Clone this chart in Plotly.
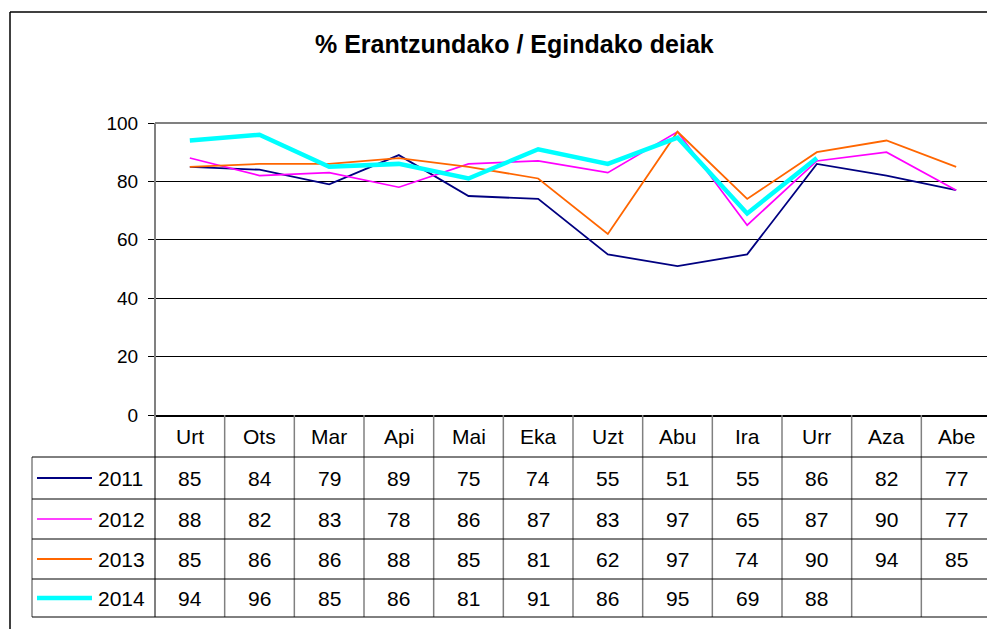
import plotly.graph_objects as go

# ---------------- data ----------------
months = ["Urt", "Ots", "Mar", "Api", "Mai", "Eka", "Uzt", "Abu", "Ira", "Urr", "Aza", "Abe"]
years = ["2011", "2012", "2013", "2014"]
v2011 = [85, 84, 79, 89, 75, 74, 55, 51, 55, 86, 82, 77]
v2012 = [88, 82, 83, 78, 86, 87, 83, 97, 65, 87, 90, 77]
v2013 = [85, 86, 86, 88, 85, 81, 62, 97, 74, 90, 94, 85]
v2014 = [94, 96, 85, 86, 81, 91, 86, 95, 69, 88, None, None]
y_ticks = [0, 20, 40, 60, 80, 100]
title_text = "% Erantzundako / Egindako deiak"

series = [v2011, v2012, v2013, v2014]

# ---------------- styles ----------------
colors = ["#000080", "#FF00FF", "#FF6600", "#00FFFF"]
widths = [1.8, 1.7, 1.8, 4.5]
FONT = "Liberation Sans, Arial, sans-serif"
GREY = "#808080"

OFF = 8  # default page body margin
W, H = 995, 629
L, R, T, B = 155, 991, 123, 415


def xp(px):
    return (px - L) / (R - L)


def yp(py):
    return (B - py) / (B - T)


row_edges = [415, 457, 499, 539, 579, 617]
row_centers = [(row_edges[i] + row_edges[i + 1]) / 2 for i in range(len(row_edges) - 1)]

fig = go.Figure()
for name, vals, c, w in zip(years, series, colors, widths):
    fig.add_trace(go.Scatter(x=months, y=vals, mode="lines", name=name,
                             line=dict(color=c, width=w), showlegend=False))

shapes = []
# outer chart border (left & top)
shapes.append(dict(type="line", xref="paper", yref="paper", x0=xp(10), x1=xp(10), y0=yp(12), y1=yp(700),
                   line=dict(color="black", width=1.5)))
shapes.append(dict(type="line", xref="paper", yref="paper", x0=xp(10), x1=xp(1010), y0=yp(12), y1=yp(12),
                   line=dict(color="black", width=1.5)))
# plot area border top/right
shapes.append(dict(type="line", xref="paper", yref="paper", x0=0, x1=1, y0=1, y1=1,
                   line=dict(color=GREY, width=2)))
shapes.append(dict(type="line", xref="paper", yref="paper", x0=1, x1=1, y0=0, y1=1,
                   line=dict(color=GREY, width=2)))
# left axis line extending through table
shapes.append(dict(type="line", xref="paper", yref="paper", x0=0, x1=0, y0=yp(617), y1=1,
                   line=dict(color=GREY, width=2)))
# table vertical separators
n = len(months)
for k in range(1, n + 1):
    shapes.append(dict(type="line", xref="paper", yref="paper", x0=k / n, x1=k / n,
                       y0=yp(row_edges[0]), y1=yp(row_edges[-1]),
                       line=dict(color=GREY, width=1.5)))
# legend column left edge
shapes.append(dict(type="line", xref="paper", yref="paper", x0=xp(32), x1=xp(32),
                   y0=yp(row_edges[1]), y1=yp(row_edges[-1]), line=dict(color=GREY, width=1.5)))
# table horizontal lines
for e in row_edges[1:]:
    shapes.append(dict(type="line", xref="paper", yref="paper", x0=xp(32), x1=1,
                       y0=yp(e), y1=yp(e), line=dict(color="black", width=1)))
# legend samples
for i, (c, w) in enumerate(zip(colors, widths)):
    yc = row_centers[i + 1]
    shapes.append(dict(type="line", xref="paper", yref="paper", x0=xp(37), x1=xp(92),
                       y0=yp(yc), y1=yp(yc), line=dict(color=c, width=w)))

annotations = []
annotations.append(dict(text="<b>" + title_text + "</b>", xref="paper", yref="paper",
                        x=xp(514), y=yp(44), showarrow=False, xanchor="center", yanchor="middle",
                        font=dict(family=FONT, size=25, color="black")))
TF = dict(family=FONT, size=21, color="black")
for m in months:
    annotations.append(dict(text=m, xref="x", yref="paper", x=m, y=yp(row_centers[0]),
                            showarrow=False, xanchor="center", yanchor="middle", font=TF))
for i, (yr, vals) in enumerate(zip(years, series)):
    yc = row_centers[i + 1]
    annotations.append(dict(text=yr, xref="paper", yref="paper", x=xp(96), y=yp(yc),
                            showarrow=False, xanchor="left", yanchor="middle", font=TF))
    for m, v in zip(months, vals):
        if v is None:
            continue
        annotations.append(dict(text=str(v), xref="x", yref="paper", x=m, y=yp(yc),
                                showarrow=False, xanchor="center", yanchor="middle", font=TF))

fig.update_layout(
    width=W - OFF, height=H - OFF,
    margin=dict(l=L - OFF, r=W - R, t=T - OFF, b=H - B, pad=0),
    paper_bgcolor="white", plot_bgcolor="white",
    shapes=shapes, annotations=annotations,
    xaxis=dict(type="category", range=[-0.5, n - 0.5], showticklabels=False, showgrid=False,
               zeroline=False, showline=True, linecolor="black", linewidth=1.5, ticks=""),
    yaxis=dict(range=[0, 100], tickvals=y_ticks, ticks="outside", ticklen=6, tickcolor="black",
               tickwidth=1, showline=False, showgrid=True, gridcolor="black", gridwidth=1,
               zeroline=False, tickfont=dict(family=FONT, size=19, color="black"),
               ticklabelstandoff=6),
)

fig.write_html("out.html")
